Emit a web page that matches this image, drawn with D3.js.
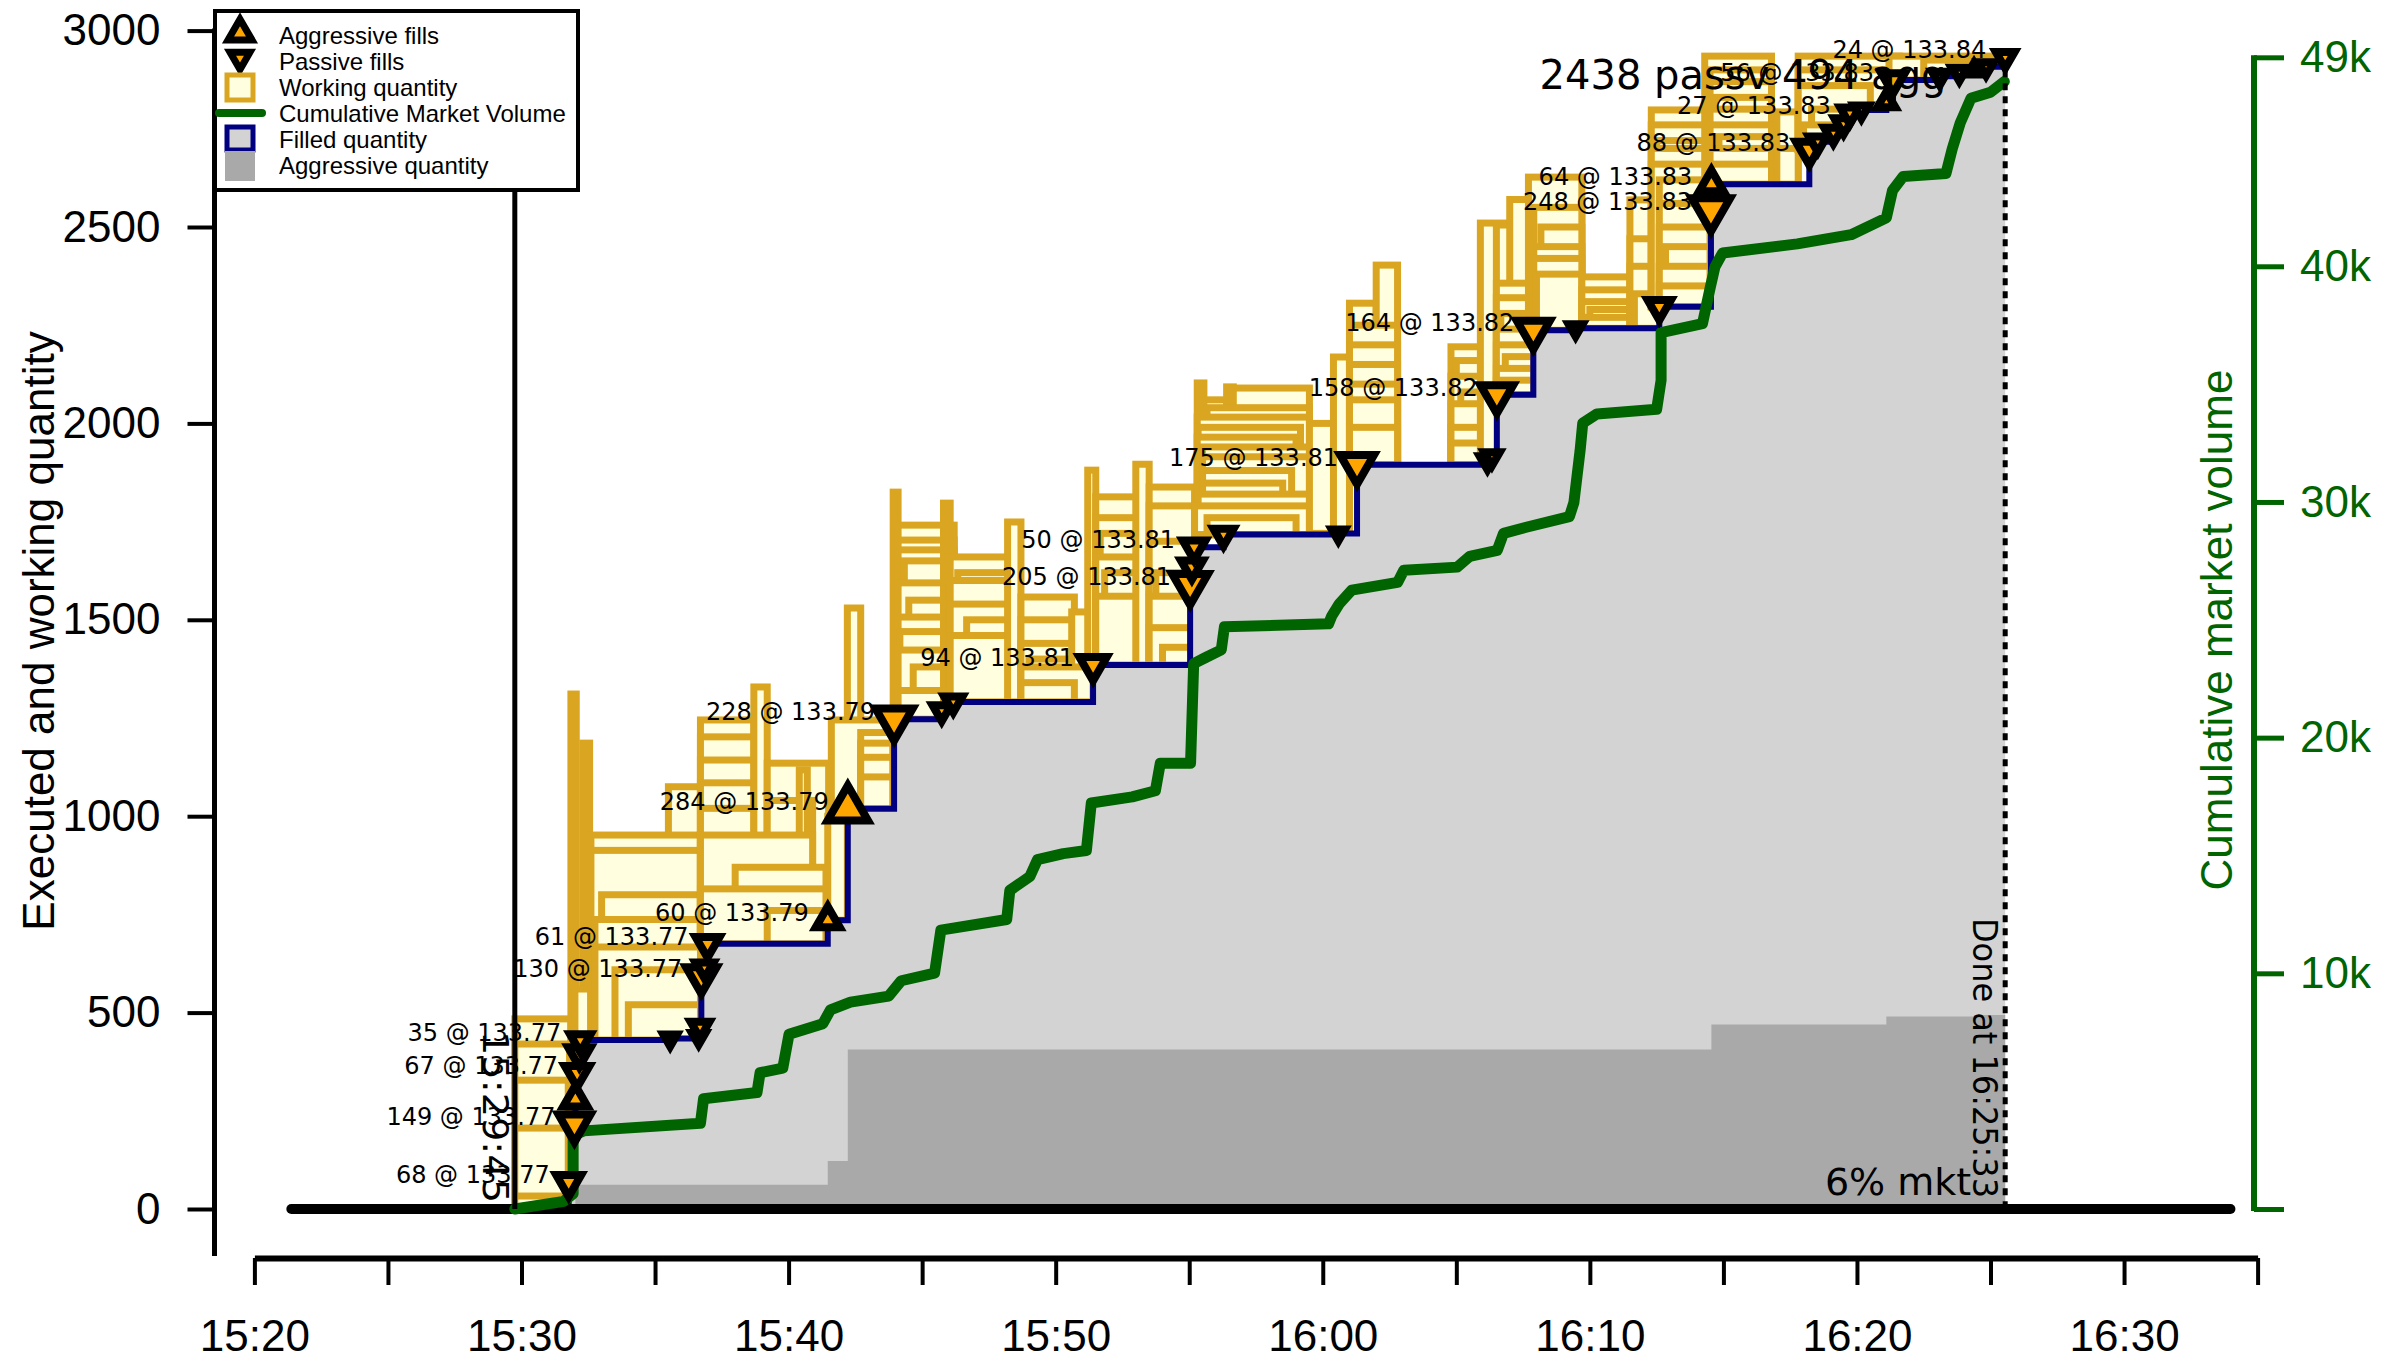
<!DOCTYPE html>
<html>
<head>
<meta charset="utf-8">
<script src="https://cdn.jsdelivr.net/npm/d3@7"></script>
<style>
  html, body { margin: 0; padding: 0; background: #fff; }
  svg { display: block; }
</style>
</head>
<body>
<svg id="chart" width="2403" height="1360"></svg>
<script>
// ---------------- order fills ----------------
const fillTimes = [
  "15:31:46","15:31:59","15:32:01","15:32:05","15:32:10","15:32:12",
  "15:35:34","15:36:38","15:36:41","15:36:44","15:36:51","15:36:58",
  "15:41:28","15:42:13","15:43:57","15:45:44","15:46:10","15:51:24",
  "15:55:02","15:55:06","15:55:11","15:56:17","16:00:35","16:01:17",
  "16:06:10","16:06:20","16:06:31","16:07:53","16:09:28","16:12:36",
  "16:14:32","16:14:33","16:18:13","16:18:32","16:19:07","16:19:30","16:19:44",
  "16:20:10","16:21:06","16:21:21","16:23:06","16:23:50","16:24:23","16:24:50","16:25:33"
];
const fillQty = [
  68,149,62,67,49,35,
  4,4,25,130,21,61,
  60,284,228,22,22,94,
  205,45,50,32,3,175,
  10,10,158,164,5,55,
  248,64,88,20,22,24,27,
  8,20,56,10,10,4,10,24
];
// A = aggressive (took liquidity), P = passive (resting order filled)
const fillSide = [
  "P","P","A","P","P","P",
  "P","P","P","P","P","P",
  "A","A","P","P","P","P",
  "P","P","P","P","P","P",
  "P","P","P","P","P","P",
  "P","A","P","P","P","P","P",
  "P","A","P","P","P","A","P","P"
];
const fillPrice = [
  133.77,133.77,133.77,133.77,133.77,133.77,
  133.77,133.77,133.77,133.77,133.77,133.77,
  133.79,133.79,133.79,133.80,133.80,133.81,
  133.81,133.81,133.81,133.81,133.81,133.81,
  133.82,133.82,133.82,133.82,133.82,133.82,
  133.83,133.83,133.83,133.83,133.83,133.83,133.83,
  133.83,133.83,133.83,133.84,133.84,133.84,133.84,133.84
];
const fillLabelled = [
  1,1,0,1,0,1,
  0,0,0,1,0,1,
  1,1,1,0,0,1,
  1,0,1,0,0,1,
  0,0,1,1,0,0,
  1,1,1,0,0,0,1,
  0,0,1,0,0,0,0,1
];

// ---------------- working orders: [placed, gone, filled level, filled + working] ----------------
const workingOrders = [
  // before the first fill
  ["15:29:45","15:31:51",0,484], ["15:29:45","15:31:48",0,420], ["15:29:45","15:31:45",0,328],
  ["15:29:45","15:31:45",0,206], ["15:29:45","15:31:48",0,33],
  // 15:32 burst
  ["15:31:51","15:32:03",217,1311], ["15:32:18","15:32:33",350,1186], ["15:32:00","15:32:36",283,560],
  // 15:32 - 15:36
  ["15:35:30","15:41:24",438,1075], ["15:32:36","15:36:42",430,952], ["15:32:36","15:36:42",430,913],
  ["15:33:00","15:36:42",430,800], ["15:32:45","15:36:42",430,737], ["15:32:45","15:36:42",430,667],
  ["15:33:30","15:36:42",430,609], ["15:34:00","15:36:42",430,520],
  // 15:36 - 15:41
  ["15:36:42","15:38:42",675,1245], ["15:36:42","15:38:42",675,1202], ["15:36:42","15:38:42",675,1143],
  ["15:36:42","15:38:42",675,1085], ["15:36:42","15:38:42",675,1020], ["15:38:42","15:39:12",675,1329],
  ["15:39:12","15:41:30",675,1135], ["15:39:12","15:40:54",675,1040], ["15:40:24","15:40:42",675,1118],
  ["15:36:42","15:40:54",675,952], ["15:38:00","15:41:24",675,870], ["15:36:42","15:41:24",675,815],
  ["15:39:12","15:41:24",675,760],
  // 15:41 - 15:44
  ["15:41:28","15:42:12",735,1000], ["15:42:12","15:42:42",1019,1530], ["15:41:36","15:43:54",1019,1245],
  ["15:42:42","15:43:54",1019,1213], ["15:42:42","15:43:54",1019,1186], ["15:42:42","15:43:54",1019,1150],
  ["15:42:42","15:43:54",1019,1100],
  // 15:44 - 15:46
  ["15:43:55","15:44:06",1247,1825], ["15:44:06","15:46:12",1247,1741], ["15:44:06","15:46:12",1247,1703],
  ["15:44:06","15:46:12",1247,1678], ["15:44:20","15:46:12",1247,1650], ["15:44:06","15:46:12",1247,1594],
  ["15:44:30","15:46:00",1247,1550], ["15:44:06","15:46:12",1247,1507], ["15:44:10","15:46:12",1247,1470],
  ["15:44:06","15:46:12",1247,1423], ["15:44:40","15:46:12",1247,1380], ["15:44:06","15:46:12",1247,1320],
  ["15:45:48","15:46:03",1247,1797],
  // 15:46 - 15:51
  ["15:46:03","15:48:30",1291,1660], ["15:46:20","15:48:30",1291,1620], ["15:46:03","15:48:30",1291,1600],
  ["15:46:03","15:48:30",1291,1540], ["15:46:40","15:48:30",1291,1500], ["15:46:03","15:48:30",1291,1460],
  ["15:48:12","15:48:42",1291,1749], ["15:48:42","15:50:42",1291,1558], ["15:48:42","15:50:42",1291,1500],
  ["15:48:42","15:50:42",1291,1440], ["15:49:00","15:50:42",1291,1400], ["15:50:36","15:51:24",1291,1520],
  ["15:48:42","15:51:24",1291,1380], ["15:48:42","15:50:42",1291,1340],
  // 15:51 - 15:55
  ["15:51:12","15:51:30",1385,1881], ["15:51:30","15:53:06",1385,1813], ["15:51:30","15:53:06",1385,1760],
  ["15:51:40","15:53:06",1385,1720], ["15:51:30","15:53:06",1385,1660], ["15:51:50","15:53:06",1385,1620],
  ["15:51:30","15:53:06",1385,1560], ["15:53:00","15:53:30",1385,1896], ["15:53:30","15:55:12",1385,1838],
  ["15:53:30","15:55:12",1385,1790], ["15:53:30","15:55:12",1385,1700], ["15:53:45","15:55:12",1385,1620],
  ["15:53:30","15:55:12",1385,1560], ["15:53:30","15:55:12",1385,1480], ["15:54:00","15:55:12",1385,1430],
  // 15:55 - 16:01
  ["15:55:18","15:55:33",1717,2103], ["15:55:33","15:56:24",1717,2060], ["15:56:24","15:56:39",1717,2093],
  ["15:56:39","15:59:30",1717,2090], ["15:55:40","15:59:30",1717,2040], ["15:55:18","15:59:30",1717,2016],
  ["15:55:20","15:59:10",1717,1990], ["15:55:18","15:59:00",1717,1965], ["15:55:30","15:59:30",1717,1940],
  ["15:55:30","15:59:30",1717,1915], ["15:55:30","15:58:50",1717,1880], ["15:55:30","15:58:30",1717,1848],
  ["15:55:20","15:59:30",1717,1820], ["15:55:12","15:59:30",1717,1790], ["15:55:40","15:59:00",1717,1760],
  ["15:59:30","16:01:00",1720,2000], ["16:00:24","16:01:00",1720,2169],
  // 16:01 - 16:03
  ["16:01:00","16:02:00",1895,2306], ["16:02:00","16:02:48",1895,2403], ["16:01:00","16:02:48",1895,2250],
  ["16:01:00","16:02:48",1895,2200], ["16:01:00","16:02:48",1895,2150], ["16:01:00","16:02:48",1895,2100],
  ["16:01:00","16:02:48",1895,2060], ["16:01:00","16:02:48",1895,1990],
  // 16:05 - 16:07
  ["16:04:48","16:06:00",1895,2195], ["16:05:00","16:06:00",1895,2160], ["16:04:48","16:06:00",1895,2120],
  ["16:05:10","16:06:00",1895,2080], ["16:04:48","16:06:00",1895,2050], ["16:04:48","16:06:00",1895,1990],
  ["16:04:48","16:06:00",1895,1950], ["16:05:54","16:07:00",1915,2510],
  ["16:06:30","16:07:06",2073,2505], ["16:07:00","16:07:54",2073,2570], ["16:06:30","16:07:54",2073,2357],
  ["16:06:30","16:07:54",2073,2320], ["16:06:40","16:07:54",2073,2280], ["16:06:30","16:07:54",2073,2240],
  ["16:06:30","16:07:54",2073,2200], ["16:06:50","16:07:54",2073,2170], ["16:06:30","16:07:54",2073,2140],
  ["16:06:30","16:07:54",2073,2110],
  // 16:08 - 16:13
  ["16:07:42","16:09:42",2237,2627], ["16:07:54","16:09:42",2237,2550], ["16:08:10","16:09:42",2237,2500],
  ["16:07:54","16:09:42",2237,2450], ["16:07:54","16:09:42",2237,2420], ["16:08:00","16:09:42",2237,2380],
  ["16:09:42","16:11:42",2242,2373], ["16:09:42","16:11:42",2242,2340], ["16:09:42","16:11:42",2242,2310],
  ["16:10:00","16:11:42",2242,2290], ["16:09:42","16:11:42",2242,2270], ["16:11:30","16:12:42",2242,2569],
  ["16:11:30","16:12:42",2242,2470], ["16:11:30","16:12:42",2242,2400], ["16:11:40","16:12:42",2242,2330],
  // 16:12 - 16:15
  ["16:12:18","16:14:30",2297,2798], ["16:12:18","16:14:30",2297,2760], ["16:12:30","16:14:30",2297,2720],
  ["16:12:18","16:14:30",2297,2700], ["16:12:18","16:14:30",2297,2660], ["16:12:36","16:14:30",2297,2620],
  ["16:12:36","16:14:30",2297,2560], ["16:12:36","16:14:30",2297,2500], ["16:12:50","16:14:30",2297,2450],
  ["16:12:36","16:14:30",2297,2400], ["16:12:36","16:14:30",2297,2350],
  // 16:14 - 16:18
  ["16:14:18","16:16:48",2609,2935], ["16:14:30","16:16:48",2609,2900], ["16:14:30","16:16:48",2609,2870],
  ["16:14:40","16:16:48",2609,2830], ["16:14:30","16:16:48",2609,2800], ["16:14:30","16:16:48",2609,2760],
  ["16:14:50","16:16:48",2609,2730], ["16:14:30","16:16:48",2609,2700], ["16:14:30","16:16:48",2609,2660],
  ["16:17:00","16:17:48",2609,2793], ["16:17:00","16:17:48",2609,2700],
  // 16:18 - 16:25
  ["16:17:48","16:21:36",2697,2935], ["16:17:48","16:21:36",2697,2900], ["16:17:48","16:20:30",2697,2860],
  ["16:18:18","16:20:30",2697,2800], ["16:18:00","16:20:30",2697,2760], ["16:18:18","16:20:30",2697,2730],
  ["16:21:12","16:25:24",2874,2935], ["16:22:30","16:25:24",2874,2925]
];

// ---------------- cumulative market volume ----------------
const mktTimes = [
  "15:29:45","15:31:35","15:31:56","15:31:56","15:32:20","15:36:42","15:36:49","15:38:49","15:38:56",
  "15:39:47","15:40:01","15:41:17","15:41:34","15:42:19","15:43:45","15:44:13","15:45:28","15:45:42",
  "15:48:10","15:48:17","15:49:02","15:49:19","15:50:17","15:51:09","15:51:20","15:52:52","15:53:44",
  "15:53:55","15:55:03","15:55:10","15:55:37","15:56:12","15:56:19","16:00:13","16:00:20","16:00:37",
  "16:01:05","16:02:48","16:03:02","16:05:02","16:05:30","16:06:32","16:06:46","16:07:37","16:09:14",
  "16:09:24","16:09:38","16:09:44","16:10:16","16:12:30","16:12:40","16:12:40","16:14:13","16:14:30",
  "16:14:41","16:14:58","16:17:46","16:19:47","16:21:06","16:21:20","16:21:44","16:23:20","16:23:34",
  "16:23:52","16:24:16","16:25:00","16:25:31"
];
const mktVolume = [
  0,325,650,3120,3315,3640,4680,4940,5785,
  5980,7410,7865,8450,8775,9035,9685,10010,11830,
  12285,13520,14105,14820,15080,15210,17225,17485,17745,
  18915,18915,23140,23400,23725,24700,24830,25155,25675,
  26260,26585,27105,27235,27690,27950,28665,28925,29380,
  29965,32175,33345,33735,33930,35165,37180,37570,39065,
  39975,40560,40950,41340,42055,43225,43810,43940,44980,
  46085,47125,47385,47840
];

// ---------------- axes ----------------
const xTickTimes = ["15:20","15:25","15:30","15:35","15:40","15:45","15:50","15:55",
                    "16:00","16:05","16:10","16:15","16:20","16:25","16:30","16:35"];
const xTickLabels = ["15:20","15:30","15:40","15:50","16:00","16:10","16:20","16:30"];
const qtyTicks = [0, 500, 1000, 1500, 2000, 2500, 3000];
const volTicks = [0, 10000, 20000, 30000, 40000];
const volTickLabels = ["", "10k", "20k", "30k", "40k", "49k"];

const startTime = "15:29:45";
const doneTime = "16:25:33";
const sessionSpan = ["15:21:23", "16:33:59"];
const participation = 0.06;

// ---------------- helpers ----------------
const minutes = s => {
  const p = s.split(":").map(Number);
  return p[0] * 60 + p[1] + (p[2] || 0) / 60 - (15 * 60 + 20);
};
const SANS = "'Liberation Sans', Arial, Helvetica, sans-serif";
const DEJAVU = "'DejaVu Sans', 'Liberation Sans', sans-serif";
const GOLD = "#DAA520", LIGHTYELLOW = "#FFFFE0", NAVY = "#000080",
      GREEN = "#006400", ORANGE = "#FFA500", LIGHTGRAY = "#D3D3D3", DARKGRAY = "#A9A9A9";

// fills with running totals
let run = 0, runAgg = 0;
const fills = fillTimes.map((s, i) => {
  run += fillQty[i];
  if (fillSide[i] === "A") runAgg += fillQty[i];
  return { t: minutes(s), q: fillQty[i], side: fillSide[i], price: fillPrice[i],
           shown: fillLabelled[i] === 1, cum: run, agg: runAgg };
});
const totalFilled = run, totalAgg = runAgg, totalPassive = run - runAgg;

const work = workingOrders.map(r => ({ t0: minutes(r[0]), t1: minutes(r[1]), lo: r[2], hi: r[3] }));
const market = mktTimes.map((s, i) => ({ t: minutes(s), v: mktVolume[i] }));

// ---------------- scales ----------------
const x = d3.scaleLinear().domain([0, 75]).range([254.4, 2257.6]);
const y = d3.scaleLinear().domain([0, 3000]).range([1209, 30.6]);
const yVol = d3.scaleLinear().domain([0, 3000 / participation]).range([1209, 30.6]);

const svg = d3.select("#chart");
const xAxisY = 1258, leftAxisX = 214.5, rightAxisX = 2254;

// ---------------- working quantity boxes ----------------
svg.append("g").selectAll("rect").data(work).join("rect")
  .attr("x", d => x(d.t0))
  .attr("y", d => y(d.hi))
  .attr("width", d => x(d.t1) - x(d.t0))
  .attr("height", d => y(d.lo) - y(d.hi))
  .attr("fill", LIGHTYELLOW)
  .attr("stroke", GOLD)
  .attr("stroke-width", 7);

// ---------------- filled and aggressive quantity ----------------
const stepArea = d3.area().x(d => x(d.t)).y0(y(0)).y1(d => y(d.v)).curve(d3.curveStepAfter);
svg.append("path")
  .attr("d", stepArea(fills.map(f => ({ t: f.t, v: f.cum }))))
  .attr("fill", LIGHTGRAY);
svg.append("path")
  .attr("d", stepArea(fills.map(f => ({ t: f.t, v: f.agg }))))
  .attr("fill", DARKGRAY);

const stepLine = d3.line().x(d => x(d.t)).y(d => y(d.v)).curve(d3.curveStepAfter);
svg.append("path")
  .attr("d", stepLine([{ t: fills[0].t, v: 0 }].concat(fills.map(f => ({ t: f.t, v: f.cum })))))
  .attr("fill", "none").attr("stroke", NAVY).attr("stroke-width", 6);

// ---------------- zero line across the session ----------------
svg.append("line")
  .attr("x1", x(minutes(sessionSpan[0]))).attr("x2", x(minutes(sessionSpan[1])))
  .attr("y1", y(0)).attr("y2", y(0))
  .attr("stroke", "#000").attr("stroke-width", 10).attr("stroke-linecap", "round");

// ---------------- cumulative market volume ----------------
svg.append("path")
  .attr("d", d3.line().x(d => x(d.t)).y(d => yVol(d.v))(market))
  .attr("fill", "none").attr("stroke", GREEN).attr("stroke-width", 11)
  .attr("stroke-linejoin", "round").attr("stroke-linecap", "round");

// ---------------- start / done markers ----------------
svg.append("line")
  .attr("x1", x(minutes(startTime))).attr("x2", x(minutes(startTime)))
  .attr("y1", 14).attr("y2", y(0))
  .attr("stroke", "#000").attr("stroke-width", 5);
svg.append("line")
  .attr("x1", x(minutes(doneTime))).attr("x2", x(minutes(doneTime)))
  .attr("y1", y(totalFilled)).attr("y2", y(0))
  .attr("stroke", "#000").attr("stroke-width", 5).attr("stroke-dasharray", "7,6");

// ---------------- fill markers ----------------
const triSide = q => 10 + 1.8 * Math.sqrt(q);
const triPath = side => d3.symbol(d3.symbolTriangle, Math.sqrt(3) / 4 * side * side)();
svg.append("g").selectAll("path").data(fills).join("path")
  .attr("d", d => triPath(triSide(d.q)))
  .attr("transform", d => `translate(${x(d.t)},${y(d.cum)})` + (d.side === "P" ? " rotate(180)" : ""))
  .attr("fill", ORANGE).attr("stroke", "#000").attr("stroke-width", 8)
  .attr("stroke-linejoin", "miter");

svg.append("g").selectAll("text").data(fills.filter(f => f.shown)).join("text")
  .attr("x", d => x(d.t) - 19)
  .attr("y", d => y(d.cum) + 1)
  .attr("text-anchor", "end")
  .attr("font-family", DEJAVU).attr("font-size", 24).attr("fill", "#000")
  .text(d => `${d.q} @ ${d.price.toFixed(2)}`);

// ---------------- annotations ----------------
svg.append("text")
  .attr("transform", `translate(${x(minutes(startTime)) - 32},1203) rotate(90)`)
  .attr("text-anchor", "end")
  .attr("font-family", DEJAVU).attr("font-size", 36)
  .attr("textLength", 172).attr("lengthAdjust", "spacingAndGlyphs")
  .text(startTime);
svg.append("text")
  .attr("transform", `translate(${x(minutes(doneTime)) - 32},1198) rotate(90)`)
  .attr("text-anchor", "end")
  .attr("font-family", DEJAVU).attr("font-size", 34)
  .attr("textLength", 280).attr("lengthAdjust", "spacingAndGlyphs")
  .text("Done at " + doneTime);

const finalVolume = mktVolume[mktVolume.length - 1];
svg.append("text")
  .attr("x", x(minutes(doneTime)) - 34).attr("y", 1195)
  .attr("text-anchor", "end")
  .attr("font-family", DEJAVU).attr("font-size", 38)
  .text(`${Math.round(totalFilled / finalVolume * 100)}% mkt`);

svg.append("text")
  .attr("x", 1743).attr("y", 89)
  .attr("text-anchor", "middle")
  .attr("font-family", DEJAVU).attr("font-size", 40)
  .text(`${totalPassive} passv ${totalAgg} agg`);

// ---------------- axes ----------------
const gX = svg.append("g").attr("transform", `translate(0,${xAxisY})`)
  .call(d3.axisBottom(x)
    .tickValues(xTickTimes.map(minutes))
    .tickFormat(d => { const lab = xTickLabels.find(s => Math.abs(minutes(s) - d) < 1e-6); return lab || ""; })
    .tickSize(27).tickPadding(35).tickSizeOuter(0));
gX.select(".domain").attr("stroke", "#000").attr("stroke-width", 6);
gX.selectAll(".tick line").attr("stroke", "#000").attr("stroke-width", 4);
gX.selectAll(".tick text").attr("font-family", SANS).attr("font-size", 44).attr("fill", "#000");

const gL = svg.append("g").attr("transform", `translate(${leftAxisX},0)`)
  .call(d3.axisLeft(y).tickValues(qtyTicks).tickFormat(d3.format("d"))
    .tickSize(27).tickPadding(27).tickSizeOuter(0));
gL.select(".domain").remove();
gL.selectAll(".tick line").attr("stroke", "#000").attr("stroke-width", 4);
gL.selectAll(".tick text").attr("font-family", SANS).attr("font-size", 44).attr("fill", "#000");
svg.append("line")
  .attr("x1", leftAxisX).attr("x2", leftAxisX)
  .attr("y1", y(3000) - 2).attr("y2", xAxisY - 2)
  .attr("stroke", "#000").attr("stroke-width", 5);

const volAxisTicks = volTicks.concat([totalFilled / participation]);
const gR = svg.append("g").attr("transform", `translate(${rightAxisX},0)`)
  .call(d3.axisRight(yVol).tickValues(volAxisTicks)
    .tickFormat((d, i) => volTickLabels[i]).tickSize(30).tickPadding(16).tickSizeOuter(0));
gR.select(".domain").remove();
gR.selectAll(".tick line").attr("stroke", GREEN).attr("stroke-width", 5);
gR.selectAll(".tick text").attr("font-family", SANS).attr("font-size", 44).attr("fill", GREEN);
svg.append("line")
  .attr("x1", rightAxisX).attr("x2", rightAxisX)
  .attr("y1", yVol(volAxisTicks[volAxisTicks.length - 1]) - 2).attr("y2", yVol(0) + 2)
  .attr("stroke", GREEN).attr("stroke-width", 6);

svg.append("text")
  .attr("transform", "translate(54,631) rotate(-90)")
  .attr("text-anchor", "middle")
  .attr("font-family", SANS).attr("font-size", 44).attr("fill", "#000")
  .text("Executed and working quantity");
svg.append("text")
  .attr("transform", "translate(2232,630) rotate(-90)")
  .attr("text-anchor", "middle")
  .attr("font-family", SANS).attr("font-size", 44).attr("fill", GREEN)
  .text("Cumulative market volume");

// ---------------- legend ----------------
const legendItems = ["Aggressive fills", "Passive fills", "Working quantity",
                     "Cumulative Market Volume", "Filled quantity", "Aggressive quantity"];
const lg = svg.append("g");
lg.append("rect").attr("x", 215).attr("y", 11).attr("width", 363).attr("height", 179)
  .attr("fill", "#fff").attr("stroke", "#000").attr("stroke-width", 4);
const rowY = i => 35 + 26 * i;
lg.append("path").attr("d", triPath(24))
  .attr("transform", `translate(240,${rowY(0) - 2})`)
  .attr("fill", ORANGE).attr("stroke", "#000").attr("stroke-width", 7);
lg.append("path").attr("d", triPath(20))
  .attr("transform", `translate(240,${rowY(1) - 3}) rotate(180)`)
  .attr("fill", ORANGE).attr("stroke", "#000").attr("stroke-width", 7);
lg.append("rect").attr("x", 227).attr("y", rowY(2) - 12).attr("width", 26).attr("height", 25)
  .attr("fill", LIGHTYELLOW).attr("stroke", GOLD).attr("stroke-width", 5);
lg.append("line").attr("x1", 219).attr("x2", 262).attr("y1", rowY(3)).attr("y2", rowY(3))
  .attr("stroke", GREEN).attr("stroke-width", 8).attr("stroke-linecap", "round");
lg.append("rect").attr("x", 227).attr("y", rowY(4) - 12).attr("width", 26).attr("height", 23)
  .attr("fill", LIGHTGRAY).attr("stroke", NAVY).attr("stroke-width", 5);
lg.append("rect").attr("x", 225).attr("y", rowY(5) - 14).attr("width", 30).attr("height", 30)
  .attr("fill", DARKGRAY);
lg.selectAll("text.item").data(legendItems).join("text")
  .attr("class", "item")
  .attr("x", 279).attr("y", (d, i) => rowY(i) + 8.5)
  .attr("font-family", SANS).attr("font-size", 24).attr("fill", "#000")
  .text(d => d);
</script>
</body>
</html>
